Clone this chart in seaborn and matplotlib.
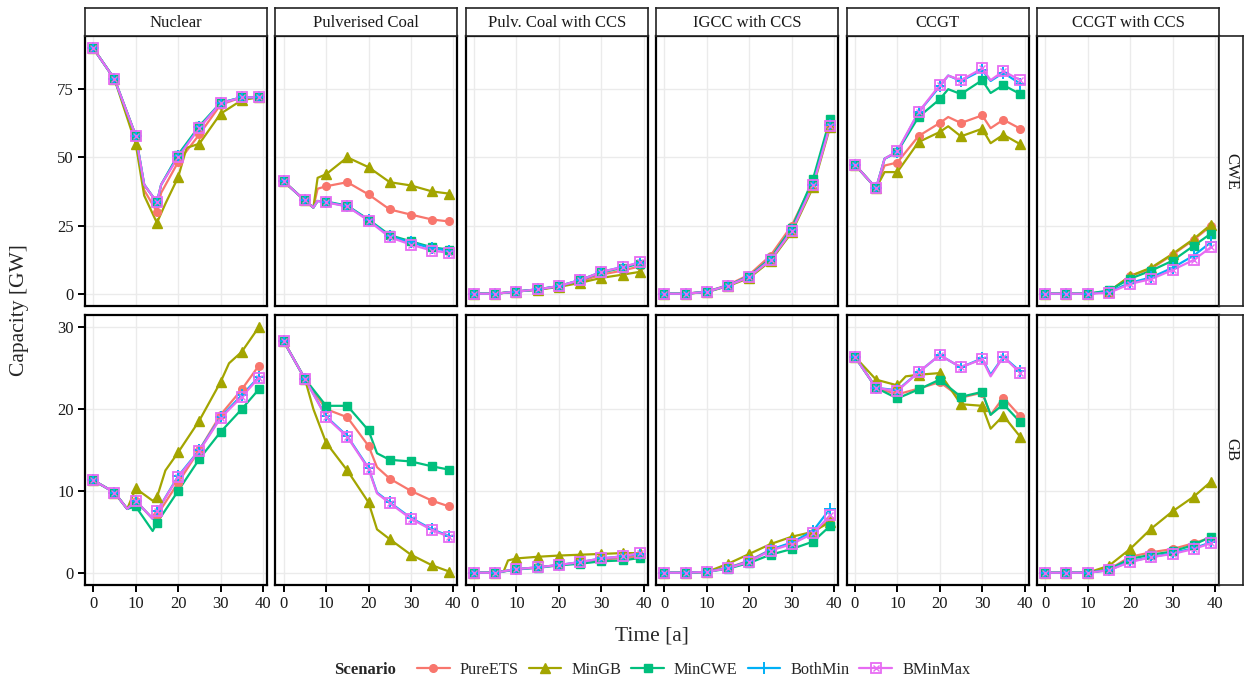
import numpy as np
import pandas as pd
import seaborn as sns
import matplotlib
matplotlib.use("Agg")
import matplotlib.pyplot as plt
from matplotlib.lines import Line2D
from matplotlib.legend_handler import HandlerTuple

sns.set_theme(style="white")
plt.rcParams['font.family'] = ['Liberation Serif', 'DejaVu Serif']

SCENARIOS = ["PureETS", "MinGB", "MinCWE", "BothMin", "BMinMax"]
COLORS = ["#F8766D", "#A3A500", "#00BF7D", "#00B0F6", "#E76BF3"]
TECHS = ["Nuclear", "Pulverised Coal", "Pulv. Coal with CCS", "IGCC with CCS", "CCGT", "CCGT with CCS"]
REGIONS = ["CWE", "GB"]
YEARS = [0, 5, 10, 15, 20, 25, 30, 35, 39]

# ---------------- CWE ----------------
cwe_nuclear = {
    "PureETS": [90, 78.7, 58, 30, 48.3, 58.4, 69.3, 72, 72],
    "MinGB":   [90, 78.7, 55, 26, 42.7, 55, 66, 71, 72],
    "MinCWE":  [90, 78.7, 58, 33.5, 51, 61.5, 70, 72, 72],
    "BothMin": [90, 78.7, 58, 33.5, 50.5, 61, 70, 72, 72],
    "BMinMax": [90, 78.7, 58, 33.5, 50, 60.8, 69.8, 72, 72],
}
cwe_pc = {
    "PureETS": [41.2, 34.2, 39.4, 40.9, 36.4, 30.9, 29, 27.2, 26.5],
    "MinGB":   [41.2, 34.2, 43.8, 50, 46.4, 40.9, 39.7, 37.5, 36.7],
    "MinCWE":  [41.2, 34.2, 33.8, 32.3, 27.2, 21.5, 19.2, 17, 16.2],
    "BothMin": [41.2, 34.2, 33.6, 32.1, 27, 21, 18.8, 16.6, 15.8],
    "BMinMax": [41.2, 34.2, 33.5, 32, 26.8, 20.7, 18, 15.8, 15],
}
cwe_pcccs = {
    "PureETS": [0, 0, 0.8, 1.5, 2.7, 4.5, 7, 8.5, 10],
    "MinGB":   [0, 0, 0.8, 1.5, 2.5, 4, 5.8, 7, 8],
    "MinCWE":  [0, 0, 0.8, 1.6, 2.8, 5, 7.8, 9.5, 11],
    "BothMin": [0, 0, 0.8, 1.6, 2.8, 5, 8, 9.8, 11.3],
    "BMinMax": [0, 0, 0.8, 1.6, 2.8, 5, 8, 9.8, 11.5],
}
cwe_igcc = {
    "PureETS": [0, 0, 0.8, 3.2, 7, 14, 25, 41, 62],
    "MinGB":   [0, 0, 0.6, 2.8, 5.8, 12, 22.5, 39, 61],
    "MinCWE":  [0, 0, 0.7, 3, 6.5, 13, 24, 42, 64],
    "BothMin": [0, 0, 0.7, 3, 6.3, 12.5, 23.2, 40, 62],
    "BMinMax": [0, 0, 0.7, 3, 6.2, 12.4, 23, 39.7, 61.5],
}
cwe_ccgt = {
    "PureETS": [47.3, 38.7, 48.1, 57.8, 62.6, 62.6, 65.4, 63.8, 60.5],
    "MinGB":   [47.3, 38.7, 44.6, 55.6, 59.3, 57.7, 60.5, 58.3, 54.8],
    "MinCWE":  [47.3, 38.7, 52, 64.8, 71.3, 73.2, 78.3, 76.5, 73.2],
    "BothMin": [47.3, 38.7, 52, 66.5, 76, 78, 82, 81, 77],
    "BMinMax": [47.3, 38.7, 52.3, 66.6, 76.5, 78.3, 82.6, 81.6, 78.3],
}
cwe_ccgtccs = {
    "PureETS": [0, 0, 0, 0.8, 6.5, 9.2, 14.3, 19.8, 24.8],
    "MinGB":   [0, 0, 0, 0.8, 6.5, 9.6, 14.6, 20.1, 25.3],
    "MinCWE":  [0, 0, 0, 1.2, 5.5, 8.5, 12.1, 17.6, 22],
    "BothMin": [0, 0, 0, 0.6, 4, 6, 9.5, 14, 18.8],
    "BMinMax": [0, 0, 0, 0.3, 3.6, 5.4, 8.7, 12.4, 17],
}
# ---------------- GB ----------------
gb_nuclear = {
    "PureETS": [11.3, 9.8, 8.8, 7, 11, 15, 19.3, 22.4, 25.3],
    "MinGB":   [11.3, 9.8, 10.3, 9.2, 14.7, 18.6, 23.3, 27, 30],
    "MinCWE":  [11.3, 9.8, 8.1, 6.1, 10, 13.9, 17.2, 20, 22.4],
    "BothMin": [11.3, 9.8, 8.8, 7.5, 11.8, 15, 19, 21.7, 23.9],
    "BMinMax": [11.3, 9.8, 8.8, 7.5, 11.7, 14.9, 18.9, 21.5, 23.8],
}
gb_pc = {
    "PureETS": [28.3, 23.7, 20, 19, 15.5, 11.5, 10, 8.8, 8.1],
    "MinGB":   [28.3, 23.7, 15.9, 12.5, 8.6, 4.1, 2.2, 0.9, 0.15],
    "MinCWE":  [28.3, 23.7, 20.4, 20.4, 17.4, 13.8, 13.6, 13, 12.6],
    "BothMin": [28.3, 23.7, 19.1, 16.7, 12.8, 8.6, 6.7, 5.3, 4.5],
    "BMinMax": [28.3, 23.7, 19, 16.6, 12.7, 8.5, 6.6, 5.2, 4.4],
}
gb_pcccs = {
    "PureETS": [0, 0, 0.45, 0.65, 0.95, 1.2, 1.6, 1.8, 2.0],
    "MinGB":   [0, 0, 1.75, 1.95, 2.1, 2.2, 2.3, 2.4, 2.4],
    "MinCWE":  [0, 0, 0.4, 0.6, 0.9, 1.1, 1.4, 1.5, 1.8],
    "BothMin": [0, 0, 0.45, 0.65, 0.95, 1.3, 1.75, 2.0, 2.3],
    "BMinMax": [0, 0, 0.45, 0.65, 0.95, 1.3, 1.75, 2.0, 2.4],
}
gb_igcc = {
    "PureETS": [0, 0, 0.1, 0.6, 1.5, 2.8, 3.6, 4.9, 6.5],
    "MinGB":   [0, 0, 0.1, 1.1, 2.3, 3.5, 4.4, 5.0, 6.2],
    "MinCWE":  [0, 0, 0.1, 0.5, 1.2, 2.2, 2.9, 3.8, 5.7],
    "BothMin": [0, 0, 0.1, 0.6, 1.4, 2.8, 3.7, 5.1, 7.8],
    "BMinMax": [0, 0, 0.1, 0.55, 1.35, 2.7, 3.5, 4.8, 7.0],
}
gb_ccgt = {
    "PureETS": [26.4, 22.6, 21.8, 22.5, 23.3, 21.4, 22, 21.4, 19.1],
    "MinGB":   [26.4, 23.6, 22.9, 24.2, 24.4, 20.6, 20.4, 19.2, 16.6],
    "MinCWE":  [26.4, 22.6, 21.3, 22.4, 23.6, 21.5, 22.1, 20.6, 18.4],
    "BothMin": [26.4, 22.6, 22.3, 24.5, 26.6, 25.1, 26.2, 26.4, 24.6],
    "BMinMax": [26.4, 22.6, 22.2, 24.5, 26.6, 25.1, 26.1, 26.4, 24.4],
}
gb_ccgtccs = {
    "PureETS": [0, 0, 0, 0.4, 1.95, 2.5, 2.9, 3.6, 4.3],
    "MinGB":   [0, 0, 0, 0.85, 2.9, 5.4, 7.5, 9.3, 11.1],
    "MinCWE":  [0, 0, 0, 0.4, 1.7, 2.2, 2.6, 3.4, 4.4],
    "BothMin": [0, 0, 0, 0.3, 1.4, 1.9, 2.4, 3.0, 3.7],
    "BMinMax": [0, 0, 0, 0.3, 1.3, 1.9, 2.3, 2.9, 3.6],
}

# intermediate (non-marker) years visible as kinks in the lines
extras = {
    ("CWE", "Nuclear"): {"PureETS": [(12, 38), (16, 37)], "MinGB": [(12, 36), (17, 33), (22, 53.5)],
                         "MinCWE": [(12, 40), (16, 40)], "BothMin": [(12, 40), (16, 40)],
                         "BMinMax": [(12, 40), (16, 40)]},
    ("CWE", "Pulverised Coal"): {"PureETS": [(7, 31.6), (8, 38.5)], "MinGB": [(7, 31.6), (8, 42.5)],
                                 "MinCWE": [(7, 31.6), (8, 34)], "BothMin": [(7, 31.6), (8, 34)],
                                 "BMinMax": [(7, 31.6), (8, 34)]},
    ("CWE", "CCGT"): {"PureETS": [(7, 47), (22, 64.8), (32, 60.7)], "MinGB": [(7, 44.6), (22, 61.4), (32, 55.2)],
                      "MinCWE": [(7, 49.5), (22, 75), (32, 73.6)], "BothMin": [(7, 49.5), (22, 80), (32, 78)],
                      "BMinMax": [(7, 49.5), (22, 80), (32, 78.3)]},
    ("GB", "Nuclear"): {"PureETS": [(8, 7.8), (14, 6.6)], "MinGB": [(8, 7.8), (14, 8.8), (17, 12.5), (32, 25.6)],
                        "MinCWE": [(8, 7.8), (14, 5.1)], "BothMin": [(8, 7.8), (14, 6.6)],
                        "BMinMax": [(8, 7.8), (14, 6.6)]},
    ("GB", "Pulverised Coal"): {"PureETS": [(22, 12.9)], "MinGB": [(7, 20), (22, 5.3)],
                                "MinCWE": [(22, 14.6)], "BothMin": [(22, 9.8)], "BMinMax": [(22, 9.7)]},
    ("GB", "Pulv. Coal with CCS"): {"MinGB": [(7, 0.2), (8, 1.5)]},
    ("GB", "CCGT"): {"PureETS": [(32, 19.3)], "MinGB": [(12, 24), (32, 17.6)], "MinCWE": [(32, 19.3)],
                     "BothMin": [(32, 24.2)], "BMinMax": [(32, 24)]},
}

panels = {
    ("CWE", "Nuclear"): cwe_nuclear, ("CWE", "Pulverised Coal"): cwe_pc,
    ("CWE", "Pulv. Coal with CCS"): cwe_pcccs, ("CWE", "IGCC with CCS"): cwe_igcc,
    ("CWE", "CCGT"): cwe_ccgt, ("CWE", "CCGT with CCS"): cwe_ccgtccs,
    ("GB", "Nuclear"): gb_nuclear, ("GB", "Pulverised Coal"): gb_pc,
    ("GB", "Pulv. Coal with CCS"): gb_pcccs, ("GB", "IGCC with CCS"): gb_igcc,
    ("GB", "CCGT"): gb_ccgt, ("GB", "CCGT with CCS"): gb_ccgtccs,
}

rows = []
for (reg, tech), d in panels.items():
    for sc in SCENARIOS:
        for y, v in zip(YEARS, d[sc]):
            rows.append((reg, tech, sc, y, v, True))
        for y, v in extras.get((reg, tech), {}).get(sc, []):
            rows.append((reg, tech, sc, y, v, False))
df = pd.DataFrame(rows, columns=["Region", "Tech", "Scenario", "Year", "Capacity", "Marker"])
df = df.sort_values(["Region", "Tech", "Scenario", "Year"])

W, H = 1244, 682
fig = plt.figure(figsize=(W / 100, H / 100), dpi=100)
palette = dict(zip(SCENARIOS, COLORS))

col_left = [85 + c * 190.4 for c in range(6)]
pw = 182
row_top = [36, 315]
ph = 270
ylims = {"CWE": (-4.5, 94.5), "GB": (-1.5, 31.5)}
yticks = {"CWE": [0, 25, 50, 75], "GB": [0, 10, 20, 30]}

FS = 12
mk = {
    "PureETS": dict(marker="o", ms=5.5),
    "MinGB": dict(marker="^", ms=6.5),
    "MinCWE": dict(marker="s", ms=5.5),
    "BothMin": dict(marker="+", ms=8, mew=1.4),
}

for r, reg in enumerate(REGIONS):
    for c, tech in enumerate(TECHS):
        ax = fig.add_axes([col_left[c] / W, 1 - (row_top[r] + ph) / H, pw / W, ph / H])
        sub = df[(df.Region == reg) & (df.Tech == tech)]
        sns.lineplot(data=sub, x="Year", y="Capacity", hue="Scenario", hue_order=SCENARIOS,
                     palette=palette, ax=ax, legend=False, linewidth=1.6, estimator=None, sort=True)
        for sc in SCENARIOS:
            m = sub[(sub.Scenario == sc) & sub.Marker]
            if sc == "BMinMax":
                ax.plot(m.Year, m.Capacity, ls="none", marker="s", ms=6.5, mfc="none",
                        mec=palette[sc], mew=1.3, zorder=5)
                ax.plot(m.Year, m.Capacity, ls="none", marker="x", ms=5, mec=palette[sc],
                        mew=1.0, zorder=5)
            else:
                ax.plot(m.Year, m.Capacity, ls="none", color=palette[sc], zorder=5, **mk[sc])
        ax.set_xlim(-1.95, 40.95)
        ax.set_ylim(*ylims[reg])
        ax.set_xticks([0, 10, 20, 30, 40])
        ax.set_yticks(yticks[reg])
        ax.grid(True, color="#EBEBEB", lw=1.0)
        ax.set_axisbelow(True)
        ax.set_xlabel("")
        ax.set_ylabel("")
        for s in ax.spines.values():
            s.set_color("black")
            s.set_linewidth(1.6)
        ax.tick_params(direction="out", length=5, width=1.4, color="black",
                       labelsize=FS, labelcolor="#1a1a1a", pad=3,
                       bottom=(r == 1), left=(c == 0), top=False, right=False,
                       labelbottom=(r == 1), labelleft=(c == 0),
                       labeltop=False, labelright=False)
        # top strip
        if r == 0:
            sax = fig.add_axes([col_left[c] / W, 1 - 36 / H, pw / W, 28 / H])
            sax.set_xticks([]); sax.set_yticks([])
            sax.set_facecolor("white")
            for s in sax.spines.values():
                s.set_color("#222222"); s.set_linewidth(1.2)
            sax.text(0.5, 0.45, tech, ha="center", va="center", fontsize=FS,
                     color="#1a1a1a", transform=sax.transAxes)
    # right strip
    rax = fig.add_axes([1219 / W, 1 - (row_top[r] + ph) / H, 24 / W, ph / H])
    rax.set_xticks([]); rax.set_yticks([])
    for s in rax.spines.values():
        s.set_color("#222222"); s.set_linewidth(1.2)
    rax.text(0.5, 0.5, reg, ha="center", va="center", rotation=-90, fontsize=FS,
             color="#1a1a1a", transform=rax.transAxes)

fig.text(20 / W, 1 - 310 / H, "Capacity [GW]", rotation=90, ha="center", va="center", fontsize=15.5)
fig.text(652 / W, 1 - 636 / H, "Time [a]", ha="center", va="center", fontsize=15.5)

# legend
handles = []
for sc in SCENARIOS:
    if sc == "BMinMax":
        h1 = Line2D([], [], color=palette[sc], lw=1.6, marker="s", ms=6.5, mfc="none", mew=1.3)
        h2 = Line2D([], [], color=palette[sc], lw=0, marker="x", ms=5, mew=1.0)
        handles.append((h1, h2))
    else:
        handles.append(Line2D([], [], color=palette[sc], lw=1.6, **mk[sc]))
fig.text(365 / W, 1 - 670 / H, "Scenario", ha="center", va="center", fontsize=FS, fontweight="bold")
fig.legend(handles, SCENARIOS, loc="center left", bbox_to_anchor=(402 / W, 1 - 670 / H), ncol=5,
           frameon=False, fontsize=11.8, handlelength=2.0, handletextpad=0.6, columnspacing=0.62,
           handler_map={tuple: HandlerTuple(ndivide=1, pad=0)})

fig.savefig("out.png", dpi=100, facecolor="white")
